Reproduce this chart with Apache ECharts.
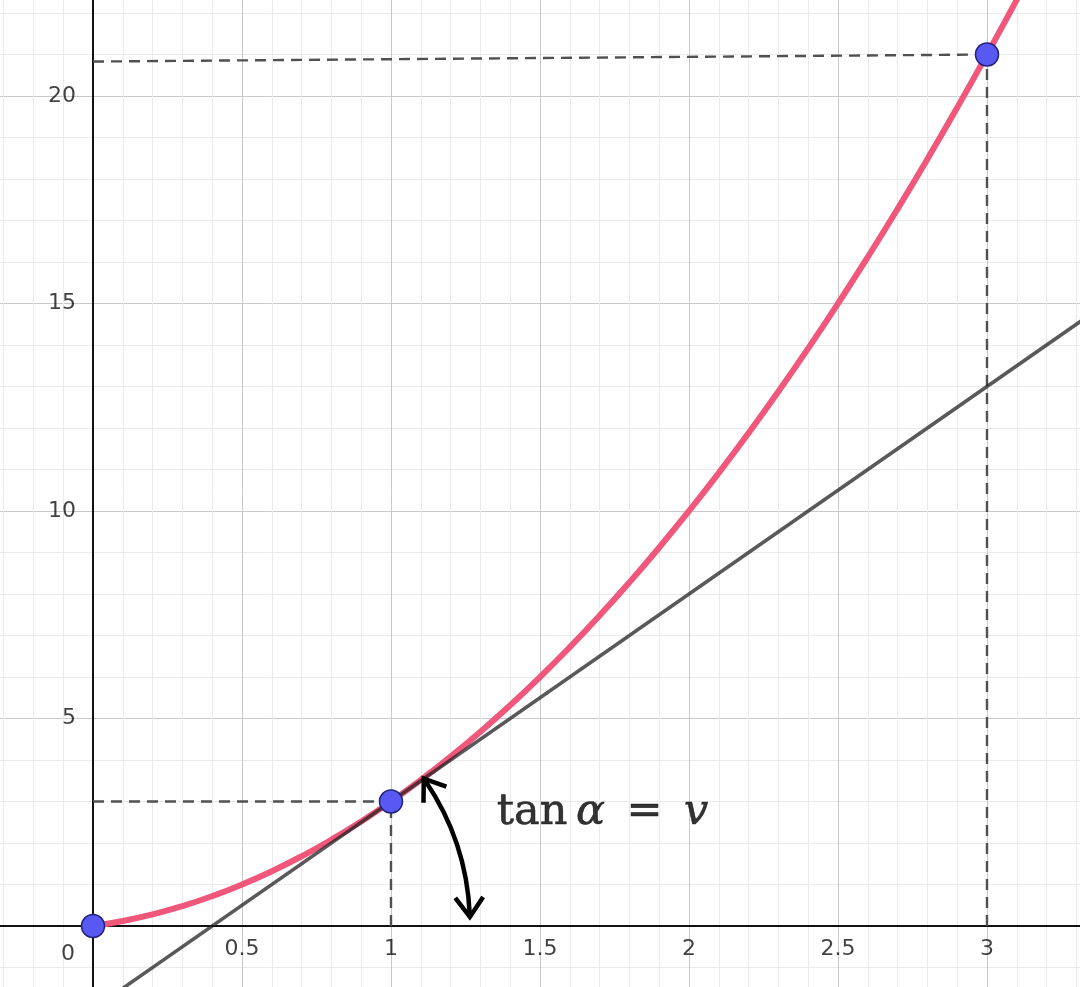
<!DOCTYPE html>
<html>
<head>
<meta charset="utf-8">
<script src="https://cdn.jsdelivr.net/npm/echarts@6/dist/echarts.min.js"></script>
<style>
  html, body { margin: 0; padding: 0; background: #fff; }
  #chart { width: 1080px; height: 987px; }
</style>
</head>
<body>
<div id="chart"></div>
<script>
// Distance travelled s(t) and its tangent at t = 1
const curveX = [0, 0.1, 0.2, 0.3, 0.4, 0.5, 0.6, 0.7, 0.8, 0.9, 1.0, 1.1, 1.2, 1.3, 1.4, 1.5, 1.6, 1.7,
                1.8, 1.9, 2.0, 2.1, 2.2, 2.3, 2.4, 2.5, 2.6, 2.7, 2.8, 2.9, 3.0, 3.1, 3.2];
const curveY = [0, 0.12, 0.28, 0.48, 0.72, 1.0, 1.32, 1.68, 2.08, 2.52, 3.0, 3.52, 4.08, 4.68, 5.32, 6.0,
                6.72, 7.48, 8.28, 9.12, 10.0, 10.92, 11.88, 12.88, 13.92, 15.0, 16.12, 17.28, 18.48,
                19.72, 21.0, 22.32, 23.68];

// Tangent line through (1, 3), slope 5
const tangentX = [0, 3.4];
const tangentY = [-2, 15];

// Marked points on the curve
const pointX = [0, 1, 3];
const pointY = [0, 3, 21];

// Dashed guides (pairs of endpoints)
const guides = [
  [[0, 3], [1, 3]],
  [[1, 0], [1, 3]],
  [[0, 20.83], [3, 21]],
  [[3, 0], [3, 21]]
];

// Angle arc: centred where the tangent meets the t-axis, running from the tangent down to the axis
const arcCenter = [0.4, 0];
const arrowFrom = [1.11, 3.55];
const arrowTo = [1.27, 0.22];

// Formula label anchor
const formulaAt = [1.355, 2.72];
const formulaText = '{r|tan\u2009}{i|\u03b1}{r|\u2002=\u2002}{i|v}';

// Tick labels, drawn next to the axes through zero
const xTicks = [0.5, 1, 1.5, 2, 2.5, 3];
const xTickLabels = ['0.5', '1', '1.5', '2', '2.5', '3'];
const yTicks = [5, 10, 15, 20];
const yTickLabels = ['5', '10', '15', '20'];
const originLabel = '0';

// View window and scale
const xMin = -0.5, xMax = 3.5, yMin = -5, yMax = 25;
const pxPerX = 298, pxPerY = 41.5;
const originPx = [93, 926];

const chart = echarts.init(document.getElementById('chart'), null, { renderer: 'canvas' });

const labelFont = { fontFamily: 'DejaVu Sans', fontSize: 22, color: '#111' };

const axisCommon = {
  type: 'value',
  axisLine: { onZero: true, lineStyle: { color: '#111', width: 2 } },
  axisTick: { show: false },
  axisLabel: { show: false },
  splitLine: { show: true, lineStyle: { color: '#c9c9c9', width: 1 } },
  minorTick: { show: false, splitNumber: 5 },
  minorSplitLine: { show: true, lineStyle: { color: '#ebebeb', width: 1 } }
};

// Double-headed arc arrow, drawn in pixel space from data coordinates
function renderArc(params, api) {
  const c = api.coord(arcCenter);
  const a = api.coord(arrowFrom);
  const b = api.coord(arrowTo);
  const r = Math.hypot(a[0] - c[0], a[1] - c[1]);
  const t0 = Math.atan2(a[1] - c[1], a[0] - c[0]);
  const t1 = Math.atan2(b[1] - c[1], b[0] - c[0]);
  const p0 = [c[0] + r * Math.cos(t0), c[1] + r * Math.sin(t0)];
  const p1 = [c[0] + r * Math.cos(t1), c[1] + r * Math.sin(t1)];
  const armLen = 24, spread = 0.62;
  // outward directions at each end
  const d0 = Math.atan2(-Math.cos(t0), Math.sin(t0));
  const d1 = Math.atan2(Math.cos(t1), -Math.sin(t1));
  const head = (p, d) => [
    [p[0] - armLen * Math.cos(d - spread), p[1] - armLen * Math.sin(d - spread)],
    [p[0], p[1]],
    [p[0] - armLen * Math.cos(d + spread), p[1] - armLen * Math.sin(d + spread)]
  ];
  const style = { stroke: '#000', lineWidth: 4.5, fill: null, lineJoin: 'miter', lineCap: 'butt' };
  return {
    type: 'group',
    children: [
      { type: 'arc', shape: { cx: c[0], cy: c[1], r: r, startAngle: t0 + 0.01, endAngle: t1 - 0.01, clockwise: true }, style },
      { type: 'polyline', shape: { points: head(p0, d0) }, style },
      { type: 'polyline', shape: { points: head(p1, d1) }, style }
    ]
  };
}

const option = {
  animation: false,
  backgroundColor: '#fff',
  grid: {
    left: originPx[0] - (0 - xMin) * pxPerX,
    top: originPx[1] - (yMax - 0) * pxPerY,
    width: (xMax - xMin) * pxPerX,
    height: (yMax - yMin) * pxPerY,
    outerBoundsMode: 'none'
  },
  xAxis: { ...axisCommon, min: xMin, max: xMax, interval: 0.5 },
  yAxis: { ...axisCommon, min: yMin, max: yMax, interval: 5 },
  series: [
    // dashed guides
    ...guides.map(g => ({
      type: 'line', data: g, symbol: 'none', silent: true, z: 2,
      lineStyle: { color: '#505050', width: 2.4, type: [11, 7] }
    })),
    {
      type: 'line', name: 's(t)', symbol: 'none', smooth: true, z: 3,
      data: curveX.map((x, i) => [x, curveY[i]]),
      lineStyle: { color: '#f0577a', width: 6 }
    },
    {
      type: 'line', name: 'tangent', symbol: 'none', z: 4,
      data: tangentX.map((x, i) => [x, tangentY[i]]),
      lineStyle: { color: '#222', width: 3.5, opacity: 0.75 }
    },
    {
      type: 'custom', name: 'angle', z: 5, silent: true,
      data: [[arcCenter[0], arcCenter[1]]],
      renderItem: renderArc
    },
    {
      type: 'scatter', name: 'points', z: 6,
      data: pointX.map((x, i) => [x, pointY[i]]),
      symbolSize: 23,
      itemStyle: { color: '#5858f2', borderColor: '#22227a', borderWidth: 1.5, opacity: 1 }
    },
    // tick labels along the t-axis
    {
      type: 'scatter', name: 'xticks', z: 5, symbolSize: 0, silent: true,
      data: xTicks.map(v => [v, 0]),
      label: {
        show: true, position: 'bottom', distance: 12, ...labelFont,
        formatter: p => xTickLabels[p.dataIndex]
      }
    },
    // tick labels along the s-axis
    {
      type: 'scatter', name: 'yticks', z: 5, symbolSize: 0, silent: true,
      data: yTicks.map(v => [0, v]),
      label: {
        show: true, position: 'left', distance: 17, ...labelFont,
        formatter: p => yTickLabels[p.dataIndex]
      }
    },
    {
      type: 'scatter', name: 'origin', z: 5, symbolSize: 0, silent: true,
      data: [[0, 0]],
      label: {
        show: true, position: 'bottom', offset: [-25, 12], ...labelFont,
        formatter: originLabel
      }
    },
    {
      type: 'scatter', name: 'formula', z: 7, symbolSize: 0, silent: true,
      data: [formulaAt],
      label: {
        show: true, position: 'right', distance: 0,
        formatter: formulaText,
        rich: {
          r: { fontFamily: 'DejaVu Serif', fontSize: 43, color: '#000', textBorderColor: '#000', textBorderWidth: 0.6 },
          i: { fontFamily: 'DejaVu Serif', fontStyle: 'italic', fontSize: 43, color: '#000', textBorderColor: '#000', textBorderWidth: 0.6 }
        }
      }
    }
  ]
};

chart.setOption(option);
</script>
</body>
</html>
